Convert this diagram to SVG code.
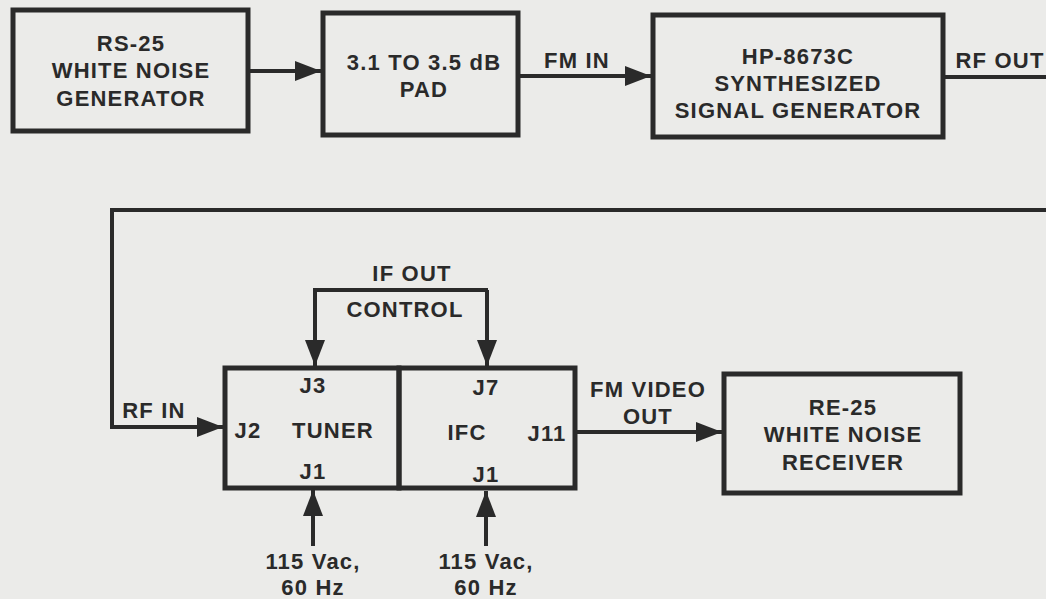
<svg xmlns="http://www.w3.org/2000/svg" width="1046" height="599" viewBox="0 0 1046 599">
<style>
.box{fill:none;stroke:#2a2a2a;stroke-width:5}
.ln{fill:none;stroke:#2a2a2a;stroke-width:4}
.t{font-family:"Liberation Sans",Arial,sans-serif;font-weight:bold;font-size:22px;fill:#2a2a2a;text-anchor:middle;letter-spacing:1.2px}
</style>
<defs>
<marker id="ah" markerUnits="userSpaceOnUse" markerWidth="28" markerHeight="22" refX="26" refY="11" orient="auto">
<path d="M0,1 L26,11 L0,21 Z" fill="#2a2a2a"/>
</marker>
</defs>
<rect width="1046" height="599" fill="#ebebe9"/>
<g id="connectors">
<path class="ln" d="M248,71 L321,71" marker-end="url(#ah)"/>
<path class="ln" d="M518,76 L651,76" marker-end="url(#ah)"/>
<path class="ln" d="M943,77 L1046,77"/>
<path class="ln" d="M1046,210 L112,210 L112,427 L223,427" marker-end="url(#ah)"/>
<path class="ln" d="M313,290 L488,290"/>
<path class="ln" d="M315,290 L315,366" marker-end="url(#ah)"/>
<path class="ln" d="M487,290 L487,366" marker-end="url(#ah)"/>
<path class="ln" d="M575,432 L722,432" marker-end="url(#ah)"/>
<path class="ln" d="M313,546 L313,490" marker-end="url(#ah)"/>
<path class="ln" d="M486,546 L486,491" marker-end="url(#ah)"/>
<text class="t" x="577" y="68">FM IN</text>
<text class="t" x="1000" y="68">RF OUT</text>
<text class="t" x="412" y="281">IF OUT</text>
<text class="t" x="405" y="317">CONTROL</text>
<text class="t" x="154" y="418">RF IN</text>
<text class="t" x="648" y="397">FM VIDEO</text>
<text class="t" x="648" y="424">OUT</text>
<text class="t" x="313" y="569">115 Vac,</text>
<text class="t" x="313" y="595">60 Hz</text>
<text class="t" x="486" y="569">115 Vac,</text>
<text class="t" x="486" y="595">60 Hz</text>
</g>
<g id="rs25">
<rect class="box" x="13" y="10" width="235" height="121"/>
<text class="t" x="131" y="51">RS-25</text>
<text class="t" x="131" y="78">WHITE NOISE</text>
<text class="t" x="131" y="106">GENERATOR</text>
</g>
<g id="pad">
<rect class="box" x="323" y="13" width="195" height="122"/>
<text class="t" x="424" y="70">3.1 TO 3.5 dB</text>
<text class="t" x="424" y="97">PAD</text>
</g>
<g id="hp8673c">
<rect class="box" x="653" y="15" width="290" height="122"/>
<text class="t" x="798" y="64">HP-8673C</text>
<text class="t" x="798" y="91">SYNTHESIZED</text>
<text class="t" x="798" y="118">SIGNAL GENERATOR</text>
</g>
<g id="tuner">
<rect class="box" x="225" y="368" width="174" height="120"/>
<text class="t" x="313" y="393">J3</text>
<text class="t" x="248" y="438">J2</text>
<text class="t" x="333" y="438">TUNER</text>
<text class="t" x="313" y="479">J1</text>
</g>
<g id="ifc">
<rect class="box" x="399" y="368" width="176" height="120"/>
<text class="t" x="486" y="395">J7</text>
<text class="t" x="467" y="440">IFC</text>
<text class="t" x="547" y="441">J11</text>
<text class="t" x="486" y="482">J1</text>
</g>
<g id="re25">
<rect class="box" x="724" y="374" width="236" height="119"/>
<text class="t" x="843" y="415">RE-25</text>
<text class="t" x="843" y="442">WHITE NOISE</text>
<text class="t" x="843" y="470">RECEIVER</text>
</g>
</svg>
